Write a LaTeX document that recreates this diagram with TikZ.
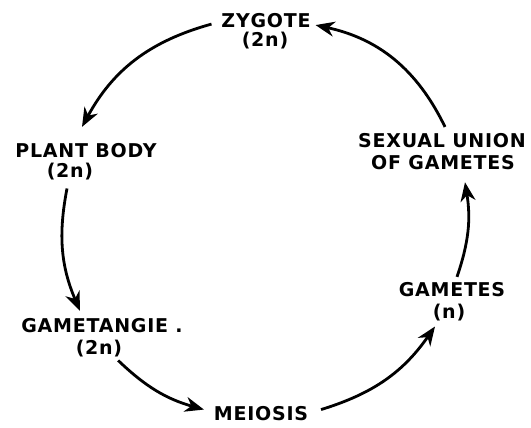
\documentclass[tikz,border=0pt]{standalone}
\usepackage{fontspec}
\newfontfamily\lblfont{DejaVu Sans}[LetterSpace=4]
\usetikzlibrary{arrows.meta}
\tikzset{
  lbl/.style={anchor=base, inner sep=0pt, outer sep=0pt,
    font=\lblfont\bfseries\fontsize{19}{21}\selectfont},
  cyc/.style={line width=2.8pt, -{Stealth[length=19pt,width=15pt,inset=6pt]}}
}
\begin{document}
\begin{tikzpicture}[x=1pt,y=1pt]
  \useasboundingbox (0,0) rectangle (531,428);

  % stages of the life cycle
  \node[lbl] (zyg)  at (266,400) {ZYGOTE};
  \node[lbl] (zygn) at (265,381) {(2n)};
  \node[lbl] (pb)   at (86,270)  {PLANT BODY};
  \node[lbl] (pbn)  at (70,250)  {(2n)};
  \node[lbl] (gam)  at (102,95)  {GAMETANGIE .};
  \node[lbl] (gamn) at (99,73)   {(2n)};
  \node[lbl] (mei)  at (261,7)   {MEIOSIS};
  \node[lbl] (gts)  at (452,131) {GAMETES};
  \node[lbl] (gtsn) at (449,109) {(n)};
  \node[lbl] (sex)  at (442,280) {SEXUAL UNION};
  \node[lbl] (ofg)  at (443,258) {OF GAMETES};

  % arcs of the cycle
  \draw[cyc] ([shift={(-10pt,-3pt)}]zyg.west) to[bend right=23]
             ([shift={(-4pt,17pt)}]pb.north);
  \draw[cyc] ([shift={(-3pt,-8pt)}]pbn.south) to[bend right=17]
             ([shift={(-22pt,8pt)}]gam.north);
  \draw[cyc] ([shift={(-4pt,-3pt)}]gamn.south east) to[bend right=14]
             ([shift={(-10pt,4.5pt)}]mei.west);
  \draw[cyc] ([shift={(13pt,4.5pt)}]mei.east) to[bend right=19]
             ([shift={(-14pt,-5pt)}]gtsn.south);
  \draw[cyc] ([shift={(5pt,6pt)}]gts.north) to[bend right=14]
             ([shift={(22pt,-12pt)}]ofg.south);
  \draw[cyc] ([shift={(3pt,7pt)}]sex.north) to[bend right=26]
             ([shift={(5pt,-4pt)}]zyg.east);
\end{tikzpicture}
\end{document}
